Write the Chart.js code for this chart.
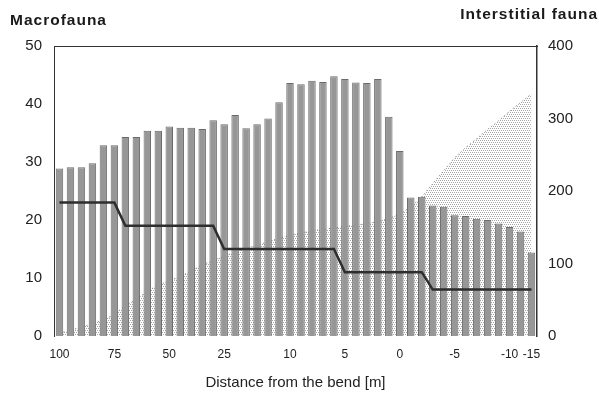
<!DOCTYPE html>
<html>
<head>
<meta charset="utf-8">
<script src="https://cdn.jsdelivr.net/npm/chart.js@4/dist/chart.umd.min.js"></script>
<style>
  html, body { margin: 0; padding: 0; background: #ffffff; }
  #wrap { width: 599px; height: 395px; position: relative; }
  canvas { display: block; }
</style>
</head>
<body>
<div id="wrap"><canvas id="c" width="599" height="395" style="width:599px;height:395px"></canvas></div>
<script>
// ---- Data ----
const LEFT_TITLE = 'Macrofauna';
const RIGHT_TITLE = 'Interstitial fauna';
const X_TITLE = 'Distance from the bend [m]';

// one category per sampling station; text only where the reference shows a tick label
const categories = ['100','','','','','75','','','','','50','','','','','25','','','','','','10','','','','','5','','','','','0','','','','','-5','','','','','-10','','-15'];

// Macrofauna (left axis, bars)
const macrofauna = [28.9, 29.1, 29.1, 29.8, 32.9, 32.9, 34.3, 34.3, 35.4, 35.4,
                    36.1, 35.9, 35.9, 35.7, 37.2, 36.5, 38.1, 35.8, 36.5, 37.5,
                    40.3, 43.6, 43.4, 44.0, 43.8, 44.8, 44.3, 43.7, 43.6, 44.3,
                    37.8, 31.9, 23.9, 24.0, 22.5, 22.3, 20.8, 20.7, 20.2, 20.0,
                    19.4, 18.8, 18.0, 14.4];

// stepped line (left axis)
const stepLine = [23, 23, 23, 23, 23, 23, 19, 19, 19, 19,
                  19, 19, 19, 19, 19, 15, 15, 15, 15, 15,
                  15, 15, 15, 15, 15, 15, 11, 11, 11, 11,
                  11, 11, 11, 11, 8, 8, 8, 8, 8, 8,
                  8, 8, 8, 8];

// Interstitial fauna (right axis, stippled area)
const interstitial = [4, 8, 12, 17, 22, 30, 42, 50, 62, 70,
                      76, 82, 90, 98, 104, 110, 116, 121, 125, 130,
                      135, 139, 142, 145, 147, 149, 151, 153, 155, 158,
                      162, 168, 178, 192, 210, 228, 246, 260, 272, 285,
                      297, 310, 322, 334];

const leftTicks = { min: 0, max: 50, step: 10 };
const rightTicks = { min: 0, max: 400, step: 100 };

// ---- Rendering ----
const FONT = '"Liberation Sans", Arial, Helvetica, sans-serif';

function makeStipple() {
  const p = document.createElement('canvas');
  p.width = 4; p.height = 4;
  const g = p.getContext('2d');
  g.fillStyle = '#ffffff';
  g.fillRect(0, 0, 4, 4);
  g.fillStyle = '#a6a6a6';
  g.fillRect(0, 0, 1, 1);
  g.fillRect(2, 0, 1, 1);
  g.fillRect(1, 2, 1, 1);
  g.fillRect(3, 2, 1, 1);
  return g.createPattern(p, 'repeat');
}

const cornerTitles = {
  id: 'cornerTitles',
  afterDraw(chart) {
    const c = chart.ctx;
    c.save();
    c.font = 'bold 15.5px ' + FONT;
    c.fillStyle = '#1a1a1a';
    try { c.letterSpacing = '1px'; } catch (e) {}
    c.textBaseline = 'middle';
    c.textAlign = 'left';
    c.fillText(LEFT_TITLE, 10, 21);
    c.textAlign = 'right';
    c.fillText(RIGHT_TITLE, 598, 15);
    c.restore();
  }
};

Chart.defaults.font.family = FONT;
Chart.defaults.color = '#222222';

new Chart(document.getElementById('c'), {
  type: 'bar',
  data: {
    labels: categories,
    datasets: [
      {
        type: 'line',
        label: 'Step',
        data: stepLine,
        yAxisID: 'y',
        xAxisID: 'x',
        borderColor: '#2e2e2e',
        borderWidth: 2.5,
        pointRadius: 0,
        tension: 0,
        fill: false,
        order: 1
      },
      {
        type: 'bar',
        label: LEFT_TITLE,
        data: macrofauna,
        yAxisID: 'y',
        xAxisID: 'x',
        backgroundColor: '#979797',
        borderColor: '#6a6a6a',
        borderWidth: 1,
        barPercentage: 0.68,
        categoryPercentage: 1,
        order: 2
      },
      {
        type: 'line',
        label: RIGHT_TITLE,
        data: interstitial,
        yAxisID: 'y1',
        xAxisID: 'x',
        backgroundColor: makeStipple(),
        borderColor: '#7a7a7a',
        borderWidth: 1,
        borderDash: [1, 3],
        pointRadius: 0,
        tension: 0,
        fill: 'origin',
        order: 3
      }
    ]
  },
  options: {
    responsive: false,
    maintainAspectRatio: false,
    animation: false,
    devicePixelRatio: 1,
    layout: { padding: { top: 46, left: 0, right: 0, bottom: 0 } },
    plugins: {
      legend: { display: false },
      tooltip: { enabled: false },
      title: { display: false }
    },
    scales: {
      x: {
        type: 'category',
        position: 'bottom',
        offset: true,
        grid: { display: false, drawTicks: false },
        border: { display: false },
        ticks: {
          autoSkip: false, maxRotation: 0, minRotation: 0,
          padding: 11,
          font: { size: 12 },
          color: '#222222'
        },
        title: {
          display: true,
          text: X_TITLE,
          font: { size: 15 },
          color: '#222222',
          padding: { top: 0, bottom: 3 }
        },
        afterFit(s) { s.height = 59; }
      },
      x2: {
        type: 'category',
        position: 'top',
        offset: true,
        grid: { display: false, drawTicks: false },
        border: { display: true, color: '#333333', width: 1 },
        ticks: { display: false },
        afterFit(s) { s.height = 0; }
      },
      y: {
        position: 'left',
        min: leftTicks.min, max: leftTicks.max,
        grid: { display: false, drawTicks: false },
        border: { display: true, color: '#333333', width: 1 },
        ticks: { stepSize: leftTicks.step, padding: 12, font: { size: 15 }, color: '#222222' },
        afterFit(s) { s.width = 54; }
      },
      y1: {
        position: 'right',
        min: rightTicks.min, max: rightTicks.max,
        grid: { display: false, drawTicks: false },
        border: { display: true, color: '#333333', width: 1.5 },
        ticks: { stepSize: rightTicks.step, padding: 11, font: { size: 15 }, color: '#222222' },
        afterFit(s) { s.width = 62; }
      }
    }
  },
  plugins: [cornerTitles]
});
</script>
</body>
</html>
